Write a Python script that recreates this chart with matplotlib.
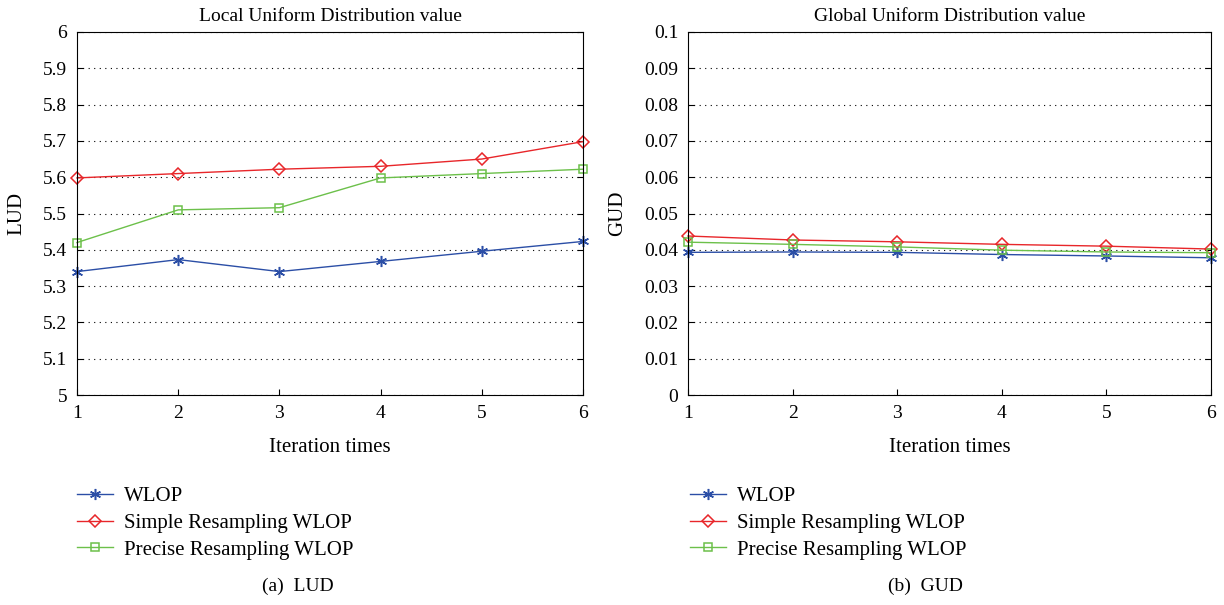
import matplotlib
matplotlib.use("Agg")
import matplotlib.pyplot as plt

plt.rcParams['font.family'] = ['Liberation Serif', 'DejaVu Serif']

iters = [1, 2, 3, 4, 5, 6]

lud_wlop = [5.340, 5.373, 5.340, 5.368, 5.396, 5.423]
lud_simple = [5.598, 5.610, 5.622, 5.630, 5.650, 5.698]
lud_precise = [5.420, 5.510, 5.516, 5.598, 5.610, 5.622]

gud_wlop = [0.0393, 0.0394, 0.0393, 0.0387, 0.0383, 0.0378]
gud_simple = [0.0438, 0.0427, 0.0422, 0.0415, 0.0410, 0.0402]
gud_precise = [0.0421, 0.0415, 0.0408, 0.0399, 0.0394, 0.0392]

labels = ['WLOP', 'Simple Resampling WLOP', 'Precise Resampling WLOP']
colors = ['#2b4ea6', '#e8262a', '#6cc04a']
markers = [(6, 2, 0), 'D', 's']
msizes = [8, 6, 6]

fig = plt.figure(figsize=(12.24, 6.05), dpi=100)
ax1 = fig.add_axes([77/1224, 1-395/605, 506/1224, 363/605])
ax2 = fig.add_axes([688/1224, 1-395/605, 523/1224, 363/605])


def draw(ax, series, title, ylabel, ylim, yticks, yfmt):
    lines = []
    for vals, c, m, ms in zip(series, colors, markers, msizes):
        l, = ax.plot(iters, vals, color=c, marker=m, markersize=ms,
                     markerfacecolor='none', markeredgecolor=c,
                     markeredgewidth=1.1, linewidth=1, clip_on=False)
        lines.append(l)
    ax.set_xlim(1, 6)
    ax.set_ylim(*ylim)
    ax.set_xticks(iters)
    ax.set_yticks(yticks)
    ax.set_yticklabels([yfmt(v) for v in yticks])
    ax.yaxis.grid(True, linestyle=(0, (1, 4)), color='black', linewidth=0.8)
    ax.tick_params(direction='in', right=True, labelsize=14, length=4, pad=7)
    ax.set_title(title, fontsize=14, pad=8)
    ax.set_xlabel('Iteration times', fontsize=15, labelpad=12)
    ax.set_ylabel(ylabel, fontsize=15, labelpad=12)
    return lines


lud_ticks = [5 + i * 0.1 for i in range(11)]
lines = draw(ax1, [lud_wlop, lud_simple, lud_precise],
             'Local Uniform Distribution value', 'LUD', (5, 6), lud_ticks,
             lambda v: '%g' % round(v, 1))
gud_ticks = [i * 0.01 for i in range(11)]
lines2 = draw(ax2, [gud_wlop, gud_simple, gud_precise],
              'Global Uniform Distribution value', 'GUD', (0, 0.1), gud_ticks,
              lambda v: '%g' % round(v, 2))

for ax, ls, x in [(ax1, lines, 69/1224), (ax2, lines2, 682/1224)]:
    fig.legend(ls, labels, loc='upper left', bbox_to_anchor=(x, 1-478/605),
               frameon=False, fontsize=15, handlelength=1.7, handletextpad=0.55,
               labelspacing=0.35, borderaxespad=0)

fig.text(298/1224, 1-586/605, '(a)  LUD', ha='center', va='center', fontsize=14)
fig.text(925/1224, 1-586/605, '(b)  GUD', ha='center', va='center', fontsize=14)

fig.savefig('out.png', dpi=100)
